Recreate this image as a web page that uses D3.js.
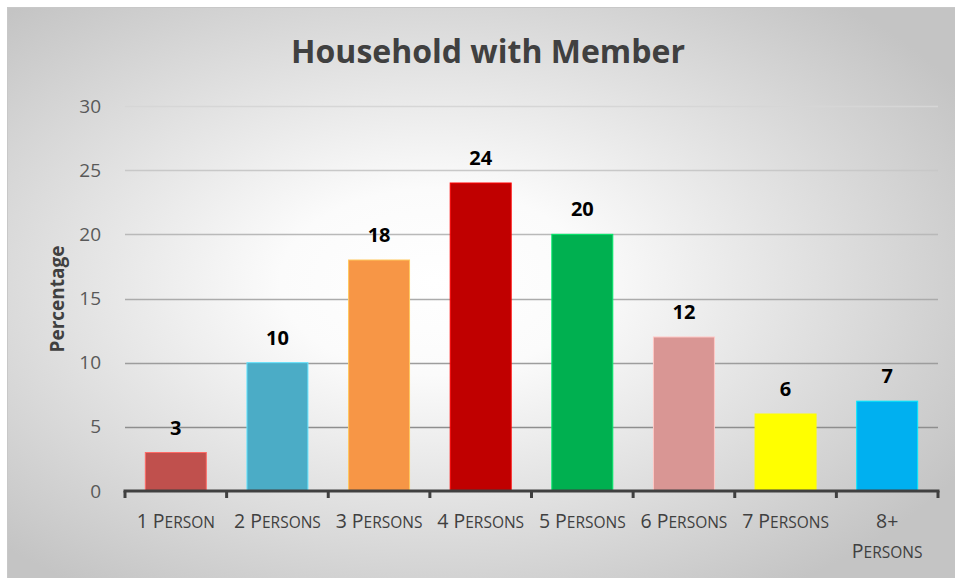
<!DOCTYPE html>
<html>
<head>
<meta charset="utf-8">
<script src="https://cdn.jsdelivr.net/npm/d3@7"></script>
<style>
  html, body { margin: 0; padding: 0; background: #fff; }
  svg { display: block; font-family: 'Open Sans', 'Noto Sans', sans-serif; }
</style>
</head>
<body>
<svg id="chart" width="955" height="578"></svg>
<script>
// data
const categories = ['1 Person', '2 Persons', '3 Persons', '4 Persons', '5 Persons', '6 Persons', '7 Persons', '8+ Persons']
const values = [3, 10, 18, 24, 20, 12, 6, 7]
const barColors = ['#c0504d', '#4bacc6', '#f79646', '#c00000', '#00b050', '#d99694', '#ffff00', '#00b0f0']
const yTicks = [0, 5, 10, 15, 20, 25, 30]

const W = 955, H = 578
const margin = { top: 106, right: 17, bottom: 87, left: 125 }
const innerW = W - margin.left - margin.right
const innerH = H - margin.top - margin.bottom

const svg = d3.select('#chart')

// 背景渐变
const defs = svg.append('defs')
const grad = defs.append('radialGradient')
  .attr('id', 'bg-grad')
  .attr('cx', '45%').attr('cy', '48%').attr('r', '65%')
grad.append('stop').attr('offset', '0%').attr('stop-color', '#ffffff')
grad.append('stop').attr('offset', '25%').attr('stop-color', '#fbfbfb')
grad.append('stop').attr('offset', '100%').attr('stop-color', '#c4c4c4')

svg.append('rect')
  .attr('x', 7.5).attr('y', 7.5)
  .attr('width', W - 7).attr('height', H - 7)
  .attr('fill', 'url(#bg-grad)')
  .attr('stroke', '#c8c8c8')

// 标题
svg.append('text')
  .attr('x', 488).attr('y', 63)
  .attr('text-anchor', 'middle')
  .attr('font-size', 32)
  .attr('font-weight', 'bold')
  .attr('fill', '#404040')
  .text('Household with Member')

const g = svg.append('g').attr('transform', `translate(${margin.left},${margin.top})`)

// 比例尺
const x = d3.scaleBand().domain(categories).range([0, innerW]).paddingInner(0.4).paddingOuter(0.2)
const y = d3.scaleLinear().domain([0, 30]).range([innerH, 0])
const gridColor = d3.scaleLinear().domain([0, 30]).range(['#808080', '#d6d6d6'])

// 网格线
g.append('g').attr('class', 'grid')
  .selectAll('line')
  .data(yTicks.filter(d => d > 0))
  .join('line')
  .attr('x1', 0).attr('x2', innerW)
  .attr('y1', d => Math.round(y(d)) + 0.5).attr('y2', d => Math.round(y(d)) + 0.5)
  .attr('stroke', d => gridColor(d))
  .attr('stroke-width', 1.3)

// y 轴
const yAxis = d3.axisLeft(y).tickValues(yTicks).tickSize(0).tickPadding(24)
g.append('g').attr('class', 'y axis')
  .call(yAxis)
  .attr('font-family', null)
  .attr('font-size', null)
  .call(s => s.select('.domain').remove())
  .call(s => s.selectAll('text').attr('font-size', 19).attr('fill', '#595959'))

// 柱子
g.append('g').attr('class', 'bars')
  .selectAll('rect')
  .data(values)
  .join('rect')
  .attr('x', (d, i) => x(categories[i]))
  .attr('y', d => y(d))
  .attr('width', x.bandwidth())
  .attr('height', d => innerH - y(d))
  .attr('fill', (d, i) => barColors[i])
  .attr('stroke', (d, i) => d3.color(barColors[i]).brighter(0.8))
  .attr('stroke-width', 1)

// 数值标签
g.append('g').attr('class', 'labels')
  .selectAll('text')
  .data(values)
  .join('text')
  .attr('x', (d, i) => x(categories[i]) + x.bandwidth() / 2)
  .attr('y', d => y(d) - 18)
  .attr('text-anchor', 'middle')
  .attr('font-size', 20)
  .attr('font-weight', 'bold')
  .attr('fill', '#000')
  .text(d => d)

// x 轴
const xAxisG = g.append('g').attr('class', 'x axis').attr('transform', `translate(0,${innerH})`)
xAxisG.append('line')
  .attr('x1', -1.5).attr('x2', innerW + 1.5)
  .attr('y1', 0).attr('y2', 0)
  .attr('stroke', '#404040').attr('stroke-width', 3)
const step = x.step()
xAxisG.selectAll('line.tick')
  .data(d3.range(categories.length + 1))
  .join('line')
  .attr('class', 'tick')
  .attr('x1', d => d * step).attr('x2', d => d * step)
  .attr('y1', 0).attr('y2', 7)
  .attr('stroke', '#404040').attr('stroke-width', 3)

// x 标签（手动小型大写）
const bigSize = 19.5, smallSize = 15.5
function smallCaps(sel, word) {
  // 首字母正常大小，其余大写缩小
  sel.append('tspan').attr('font-size', bigSize).text(word[0])
  sel.append('tspan').attr('font-size', smallSize).text(word.slice(1).toUpperCase())
}
xAxisG.selectAll('text')
  .data(categories)
  .join('text')
  .attr('x', d => x(d) + x.bandwidth() / 2)
  .attr('y', 37)
  .attr('text-anchor', 'middle')
  .attr('fill', '#404040')
  .each(function (d) {
    const t = d3.select(this)
    const cx = x(d) + x.bandwidth() / 2
    const [num, word] = d.split(' ')
    if (d.startsWith('8+')) {
      t.append('tspan').attr('x', cx).attr('font-size', bigSize).text(num)
      // 第二行
      t.append('tspan').attr('x', cx).attr('dy', 30).attr('font-size', bigSize).text(word[0])
      t.append('tspan').attr('font-size', smallSize).text(word.slice(1).toUpperCase())
    } else {
      t.append('tspan').attr('font-size', bigSize).text(num + ' ')
      smallCaps(t, word)
    }
  })

// y 轴标题
svg.append('text')
  .attr('transform', 'translate(64,299) rotate(-90)')
  .attr('text-anchor', 'middle')
  .attr('font-size', 19)
  .attr('font-weight', 'bold')
  .attr('fill', '#404040')
  .text('Percentage')
</script>
</body>
</html>
